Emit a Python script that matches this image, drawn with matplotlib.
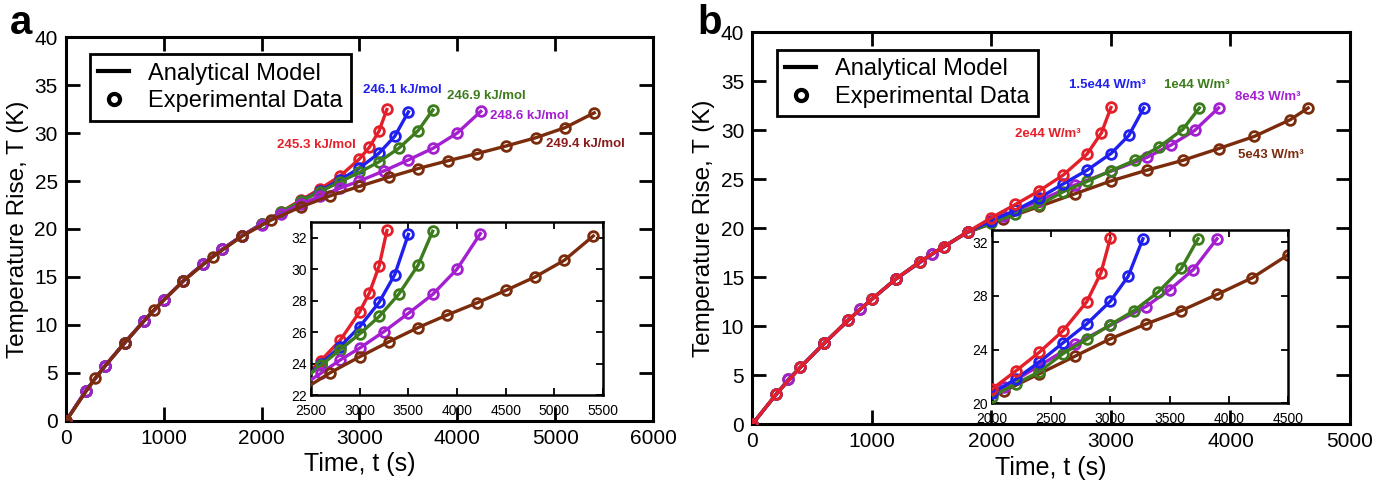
import matplotlib
matplotlib.use("Agg")
import matplotlib.pyplot as plt
from matplotlib.lines import Line2D

plt.rcParams['font.family'] = ['Liberation Sans', 'DejaVu Sans']

# ---------------- Panel a data (activation energy) ----------------
a_red_t = [0, 200, 400, 600, 800, 1000, 1200, 1400, 1600, 1800, 2000, 2200, 2400, 2600, 2800, 3000, 3100, 3200, 3280]
a_red_T = [0, 3.1, 5.75, 8.15, 10.45, 12.6, 14.6, 16.35, 17.9, 19.3, 20.55, 21.8, 23.0, 24.2, 25.5, 27.3, 28.5, 30.2, 32.45]
a_blue_t = [0, 200, 400, 600, 800, 1000, 1200, 1400, 1600, 1800, 2000, 2200, 2400, 2600, 2800, 3000, 3200, 3360, 3500]
a_blue_T = [0, 3.1, 5.75, 8.15, 10.45, 12.6, 14.6, 16.35, 17.9, 19.3, 20.5, 21.7, 22.9, 24.0, 25.1, 26.35, 27.9, 29.65, 32.2]
a_green_t = [0, 200, 400, 600, 800, 1000, 1200, 1400, 1600, 1800, 2000, 2200, 2400, 2600, 2800, 3000, 3200, 3400, 3600, 3750]
a_green_T = [0, 3.1, 5.75, 8.15, 10.45, 12.6, 14.6, 16.35, 17.9, 19.3, 20.5, 21.75, 22.9, 23.9, 24.9, 25.9, 27.0, 28.4, 30.25, 32.4]
a_purple_t = [0, 200, 400, 600, 800, 1000, 1200, 1400, 1600, 1800, 2000, 2200, 2400, 2600, 2800, 3000, 3250, 3500, 3750, 4000, 4240]
a_purple_T = [0, 3.1, 5.75, 8.15, 10.45, 12.6, 14.6, 16.35, 17.9, 19.3, 20.45, 21.6, 22.6, 23.4, 24.25, 25.0, 26.05, 27.2, 28.4, 30.0, 32.25]
a_brown_t = [0, 300, 600, 900, 1200, 1500, 1800, 2100, 2400, 2700, 3000, 3300, 3600, 3900, 4200, 4500, 4800, 5100, 5400]
a_brown_T = [0, 4.5, 8.15, 11.6, 14.6, 17.1, 19.25, 20.95, 22.3, 23.45, 24.45, 25.4, 26.3, 27.1, 27.85, 28.65, 29.5, 30.55, 32.1]

a_labels = ['245.3 kJ/mol', '246.1 kJ/mol', '246.9 kJ/mol', '248.6 kJ/mol', '249.4 kJ/mol']
a_label_pos = [(2160, 28.7), (3040, 34.5), (3890, 33.9), (4330, 31.75), (4910, 28.9)]

# ---------------- Panel b data (heat generation) ----------------
b_red_t = [0, 200, 400, 600, 800, 1000, 1200, 1400, 1600, 1800, 2000, 2200, 2400, 2600, 2800, 2920, 3000]
b_red_T = [0, 3.06, 5.78, 8.23, 10.6, 12.76, 14.8, 16.56, 18.1, 19.6, 21.05, 22.4, 23.8, 25.4, 27.55, 29.7, 32.3]
b_blue_t = [0, 200, 400, 600, 800, 1000, 1200, 1400, 1600, 1800, 2000, 2200, 2400, 2600, 2800, 3000, 3150, 3275]
b_blue_T = [0, 3.06, 5.78, 8.23, 10.6, 12.76, 14.8, 16.56, 18.1, 19.6, 20.75, 21.8, 23.07, 24.5, 25.9, 27.6, 29.45, 32.25]
b_green_t = [0, 200, 400, 600, 800, 1000, 1200, 1400, 1600, 1800, 2000, 2200, 2400, 2600, 2800, 3000, 3200, 3400, 3600, 3740]
b_green_T = [0, 3.06, 5.78, 8.23, 10.6, 12.76, 14.8, 16.56, 18.1, 19.6, 20.5, 21.45, 22.35, 23.7, 24.75, 25.85, 26.9, 28.25, 30.05, 32.25]
b_purple_t = [0, 300, 600, 900, 1200, 1500, 1800, 2100, 2400, 2700, 3000, 3300, 3500, 3700, 3900]
b_purple_T = [0, 4.56, 8.23, 11.7, 14.8, 17.3, 19.6, 21.2, 22.8, 24.4, 25.8, 27.2, 28.45, 29.95, 32.25]
b_brown_t = [0, 300, 600, 900, 1200, 1500, 1800, 2100, 2400, 2700, 3000, 3300, 3600, 3900, 4200, 4500, 4650]
b_brown_T = [0, 4.56, 8.23, 11.7, 14.8, 17.3, 19.55, 20.9, 22.2, 23.5, 24.8, 25.9, 26.9, 28.1, 29.35, 31.05, 32.25]

b_labels = ['2e44 W/m³', '1.5e44 W/m³', '1e44 W/m³', '8e43 W/m³', '5e43 W/m³']
b_label_pos = [(2200, 29.6), (2650, 34.6), (3440, 34.6), (4040, 33.4), (4060, 27.4)]

colors = ['#e3202a', '#2020ee', '#3c7c1c', '#a31fd0', '#7b2c0c']
label_colors = ['#e3202a', '#2020ee', '#3c7c1c', '#a31fd0', '#8a1c1c']
label_colors_b = ['#e3202a', '#2020ee', '#3c7c1c', '#a31fd0', '#7b2c0c']

fig = plt.figure(figsize=(13.86, 4.82), dpi=100)

def style_axes(ax, fs, length, width, spw):
    ax.tick_params(direction='in', top=True, right=True, length=length, width=width,
                   labelsize=fs, pad=6)
    for s in ax.spines.values():
        s.set_linewidth(spw)

def draw_series(ax, series, order, ms, lw, mew):
    for i in order:
        t, T = series[i]
        ax.plot(t, T, '-', color=colors[i], lw=lw, marker='o', ms=ms,
                mfc='none', mec=colors[i], mew=mew, zorder=2 + order.index(i))

a_series = [(a_red_t, a_red_T), (a_blue_t, a_blue_T), (a_green_t, a_green_T),
            (a_purple_t, a_purple_T), (a_brown_t, a_brown_T)]
b_series = [(b_red_t, b_red_T), (b_blue_t, b_blue_T), (b_green_t, b_green_T),
            (b_purple_t, b_purple_T), (b_brown_t, b_brown_T)]

legend_handles = [Line2D([], [], color='black', lw=3),
                  Line2D([], [], color='black', lw=0, marker='o', ms=8, mfc='none', mew=3)]
legend_texts = ['Analytical Model', 'Experimental Data']

def add_legend(ax):
    leg = ax.legend(legend_handles, legend_texts, loc='upper left', bbox_to_anchor=(0.041, 0.955),
                    borderaxespad=0, fontsize=17, frameon=True, fancybox=False, edgecolor='black',
                    handlelength=1.3, handletextpad=0.8, borderpad=0.35, labelspacing=0.25,
                    framealpha=1)
    leg.get_frame().set_linewidth(2)
    leg.set_zorder(20)

# ---------------- Panel a ----------------
axa = fig.add_axes([0.0476, 0.1266, 0.4235, 0.7966])
draw_series(axa, a_series, [0, 1, 2, 3, 4], 7, 2.4, 2.0)
axa.set_xlim(0, 6000)
axa.set_ylim(0, 40)
axa.set_xticks(range(0, 6001, 1000))
axa.set_yticks(range(0, 41, 5))
style_axes(axa, 15, 10, 2, 2.2)
axa.set_xlabel('Time, t (s)', fontsize=18, labelpad=3)
axa.set_ylabel('Temperature Rise, T (K)', fontsize=17.5, labelpad=4)
for lab, (x, y), c in zip(a_labels, a_label_pos, label_colors):
    axa.text(x, y, lab, color=c, fontsize=9.5, fontweight='bold', ha='left', va='center', zorder=25)
add_legend(axa)
fig.text(0.007, 0.952, 'a', fontsize=29, fontweight='bold', va='center', ha='left')

# inset a
ia = fig.add_axes([0.2244, 0.1795, 0.2107, 0.3605])
draw_series(ia, a_series, [0, 1, 2, 3, 4], 7, 2.4, 2.0)
ia.set_xlim(2500, 5500)
ia.set_ylim(22, 33)
ia.set_xticks(range(2500, 5501, 500))
ia.set_yticks(range(22, 33, 2))
style_axes(ia, 10, 5, 1.3, 1.8)
ia.tick_params(axis='y', pad=3)
ia.tick_params(axis='x', pad=6)

# ---------------- Panel b ----------------
axb = fig.add_axes([0.5429, 0.1203, 0.4311, 0.8133])
draw_series(axb, b_series, [4, 3, 2, 1, 0], 7, 2.4, 2.0)
axb.set_xlim(0, 5000)
axb.set_ylim(0, 40)
axb.set_xticks(range(0, 5001, 1000))
axb.set_yticks(range(0, 41, 5))
style_axes(axb, 15, 10, 2, 2.2)
axb.set_xlabel('Time, t (s)', fontsize=18, labelpad=3)
axb.set_ylabel('Temperature Rise, T (K)', fontsize=17.5, labelpad=4)
for lab, (x, y), c in zip(b_labels, b_label_pos, label_colors_b):
    axb.text(x, y, lab, color=c, fontsize=9.5, fontweight='bold', ha='left', va='center', zorder=25)
add_legend(axb)
fig.text(0.503, 0.952, 'b', fontsize=29, fontweight='bold', va='center', ha='left')

# inset b
ib = fig.add_axes([0.7157, 0.1633, 0.2136, 0.3595])
draw_series(ib, b_series, [4, 3, 2, 1, 0], 7, 2.4, 2.0)
ib.set_xlim(2000, 4500)
ib.set_ylim(20, 32.9)
ib.set_xticks(range(2000, 4501, 500))
ib.set_yticks(range(20, 33, 4))
style_axes(ib, 10, 5, 1.3, 1.8)
ib.tick_params(axis='y', pad=3)
ib.tick_params(axis='x', pad=6)

fig.savefig('out.png', dpi=100)
